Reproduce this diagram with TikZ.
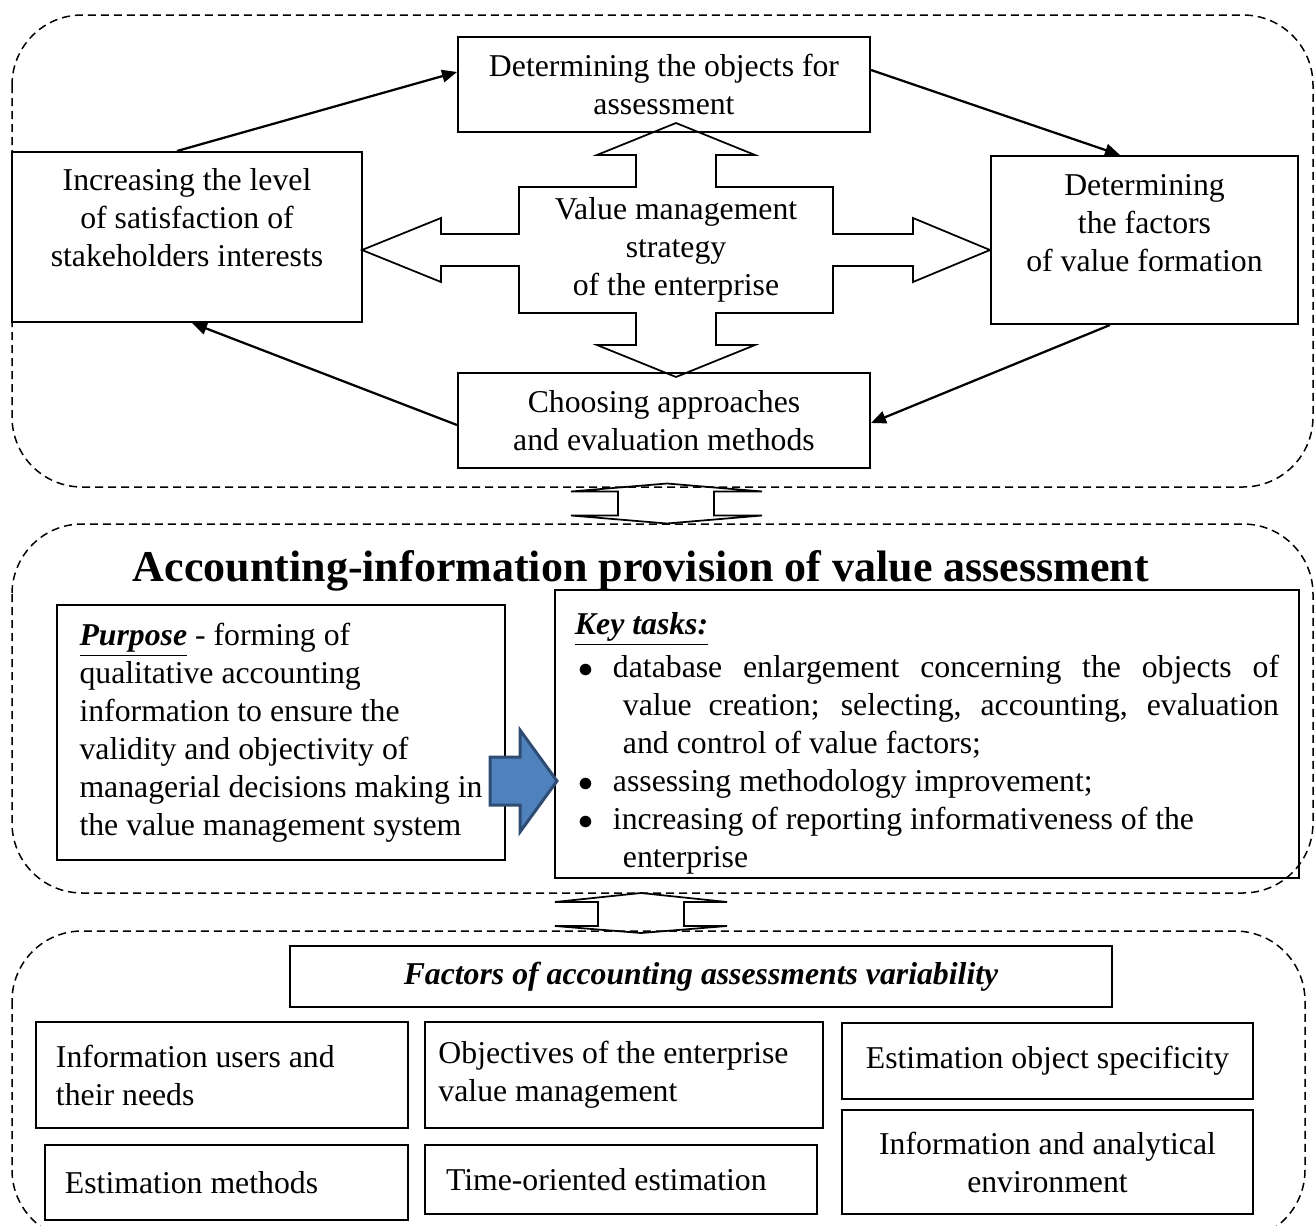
\documentclass[tikz,border=0pt]{standalone}
\usepackage{fontspec}
\setmainfont{Liberation Serif}
\usetikzlibrary{arrows.meta}
\definecolor{purposeblue}{HTML}{4F81BD}
\definecolor{purposeedge}{HTML}{2F4D73}
\newcommand{\kt}[1]{\par\noindent\hangindent=19.2pt\hangafter=1\hspace*{1.6pt}\makebox[13.6pt][l]{$\bullet$}#1\par}

\begin{document}
\begin{tikzpicture}[x=0.4pt, y=-0.4pt,
  every node/.style={font=\fontsize{12.7}{15.2}\selectfont},
  box/.style={draw, line width=0.8pt, align=center, inner sep=2pt},
  lbox/.style={draw, line width=0.8pt, align=flush left, inner ysep=2pt},
  flow/.style={line width=0.9pt, -{Triangle[length=6pt,width=5pt]}},
  panel/.style={line width=0.6pt, dash pattern=on 3.2pt off 2pt, rounded corners=28pt},
  blk/.style={line width=0.7pt, line join=miter}]
\useasboundingbox (0,0) rectangle (1315,1226);

\draw[panel] (12,15) rectangle (1313,487);
\draw[panel] (12,524) rectangle (1313,893);
\draw[panel] (12,931) rectangle (1305,1240);

\node[box, minimum width=164.8pt, minimum height=38pt] (obj) at (664,84.5) {Determining the objects for\\assessment};
\node[box, minimum width=140pt, minimum height=68pt] (inc) at (187,237) {};
\node[align=center] (inct) at (187,218) {Increasing the level\\of satisfaction of\\stakeholders interests};
\node[box, minimum width=122.8pt, minimum height=67.2pt] (rgt) at (1144.5,240) {};
\node[align=center] (rgtt) at (1144.5,223) {Determining\\the factors\\of value formation};
\node[box, minimum width=164.8pt, minimum height=38pt] (cho) at (664,420.5) {Choosing approaches\\and evaluation methods};

\node[align=center] (vms) at (676,250) {Value management\\strategy\\of the enterprise};
\draw[blk, shift={(vms.center)}] (0,-127) -- (79,-95) -- (40,-95) -- (40,-63) -- (157,-63) -- (157,-16)
  -- (237,-16) -- (237,-32) -- (314,0) -- (237,32) -- (237,16) -- (157,16) -- (157,63) -- (40,63)
  -- (40,95) -- (79,95) -- (0,127) -- (-79,95) -- (-40,95) -- (-40,63) -- (-157,63) -- (-157,16)
  -- (-235,16) -- (-235,32) -- (-314,0) -- (-235,-32) -- (-235,-16) -- (-157,-16) -- (-157,-63)
  -- (-40,-63) -- (-40,-95) -- (-79,-95) -- cycle;

\draw[flow] ([xshift=-4pt]inc.north) -- ([yshift=5pt]obj.west);
\draw[flow] ([yshift=5.8pt]obj.east) -- ([xshift=-9.8pt]rgt.north);
\draw[flow] ([xshift=-13.8pt]rgt.south) -- ([yshift=-1pt]cho.east);
\draw[flow] ([yshift=-1.8pt]cho.west) -- ([xshift=2pt]inc.south);

\draw[blk, shift={(667,503.5)}] (0,-20) -- (95,-12) -- (47,-12) -- (47,12) -- (95,12) -- (0,20)
  -- (-96,12) -- (-49,12) -- (-49,-12) -- (-96,-12) -- cycle;

\node[font=\fontsize{17.6}{20}\selectfont\bfseries] (acc) at (641,571) {Accounting-information provision of value assessment};
\node[draw, line width=0.5pt, align=left, minimum width=179.2pt, minimum height=102pt] (pur) at (281,732.5)
  {\underline{\textbf{\textit{Purpose}}} - forming of\\qualitative accounting\\information to ensure the\\validity and objectivity of\\managerial decisions making in\\the value management system};
\node[draw, line width=0.5pt, align=justify, text width=281.6pt, inner xsep=8pt, inner ysep=1pt, minimum height=115.2pt] (key) at (927,734)
  {\rule{0pt}{16.4pt}\underline{\textbf{\textit{Key tasks:}}}\par\vspace{2pt}
  \kt{database enlargement concerning the objects of\linebreak value creation; selecting, accounting, evaluation\linebreak and control of value factors;}
  \kt{assessing methodology improvement;}
  \kt{increasing of reporting informativeness of the\newline enterprise}};
\draw[line width=1.2pt, draw=purposeedge, fill=purposeblue] (490,757) -- (520,757) -- (520,730) -- (557,781)
  -- (520,832) -- (520,805) -- (490,805) -- cycle;

\draw[blk, shift={(641,913)}] (0,-20) -- (86,-11) -- (43,-11) -- (43,13) -- (86,13) -- (0,20)
  -- (-86,13) -- (-43,13) -- (-43,-11) -- (-86,-11) -- cycle;

\node[box, minimum width=328.8pt, minimum height=24.4pt, font=\fontsize{12.7}{15.2}\selectfont\bfseries\itshape] (fac) at (701,976.5) {Factors of accounting assessments variability};
\node[lbox, text width=132.8pt, inner xsep=8pt, minimum height=42.4pt] (f1) at (222,1075) {Information users and\\their needs};
\node[lbox, text width=148.4pt, inner xsep=5.4pt, minimum height=42.4pt] (f2) at (624,1075) {Objectives of the enterprise\\value management};
\node[lbox, text width=129.2pt, inner xsep=8pt, minimum height=30pt] (f3) at (226.5,1182.5) {Estimation methods};
\node[lbox, text width=140pt, inner xsep=8.4pt, minimum height=27.6pt] (f4) at (621,1179.5) {Time-oriented estimation};
\node[box, minimum width=164.4pt, minimum height=30.4pt] (f5) at (1047.5,1061) {Estimation object specificity};
\node[box, minimum width=164.4pt, minimum height=41.6pt] (f6) at (1047.5,1162) {Information and analytical\\environment};

\end{tikzpicture}
\end{document}
